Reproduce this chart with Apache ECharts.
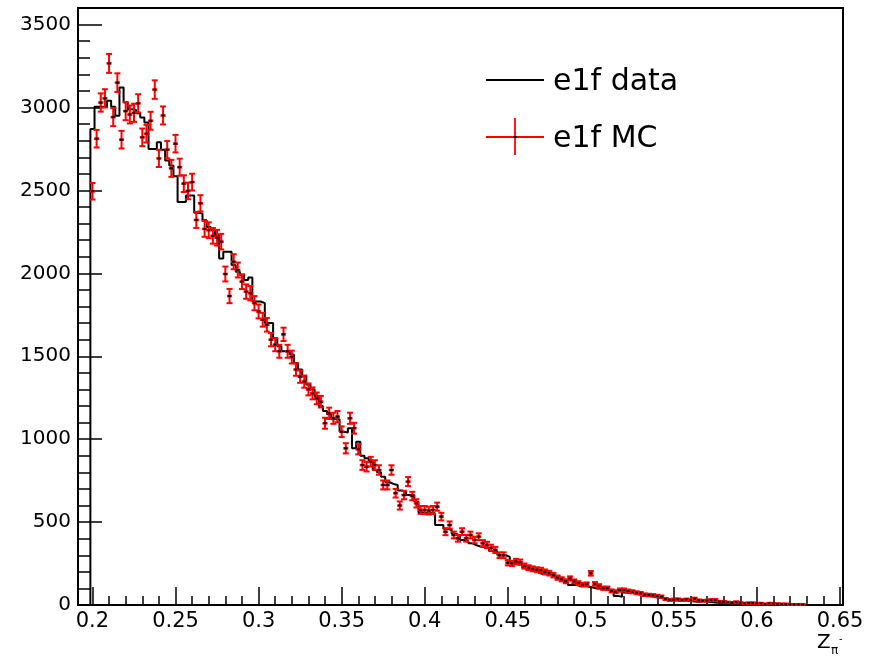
<!DOCTYPE html>
<html><head><meta charset="utf-8">
<script src="https://cdn.jsdelivr.net/npm/echarts@6/dist/echarts.min.js"></script>
<style>html,body{margin:0;padding:0;background:#fff}#c{width:875px;height:660px}</style>
</head><body><div id="c"></div>
<script>
// ---- data ----
const binLowEdge = 0.19875;   // lower edge of first filled bin
const binWidth = 0.0025;
const dataCounts = [
2870,3005,3005,3005,3040,3005,2950,3120,3030,2990,
2985,2965,2940,2910,2750,2750,2790,2745,2680,2650,
2585,2430,2430,2470,2470,2365,2360,2320,2280,2260,
2230,2090,2130,2130,2050,2010,1990,1960,1975,1830,
1830,1820,1700,1700,1610,1560,1530,1530,1510,1460,
1420,1380,1330,1300,1260,1200,1170,1150,1120,1120,
1045,1040,1066,945,985,900,885,870,814,800,
774,740,730,724,690,683,663,663,623,560,
553,553,553,482,482,460,452,430,420,392,
385,372,360,352,352,345,325,320,300,300,
290,255,251,251,225,211,205,195,185,185,
180,175,160,150,135,120,120,115,115,110,
105,100,98,95,92,90,55,50,75,72,
75,70,68,65,55,48,45,42,38,30,
28,25,25,28,22,20,20,24,18,16,
14,12,15,12,10,10,8,8,6,6,
5,4,4,3,3,2,2,2,1,1,
1,0
];
const mcCounts = [
2495,2812,3030,3055,3266,2942,3150,2806,2978,2958,
2968,3025,2820,2842,2920,3108,2693,2952,2746,2633,
2782,2640,2541,2497,2550,2322,2422,2268,2260,2226,
2215,2191,1996,1863,2070,2020,1950,1890,1880,1820,
1770,1720,1690,1600,1570,1530,1632,1530,1495,1420,
1377,1347,1300,1276,1246,1226,1096,1156,1126,1136,
1045,945,1126,1066,939,844,834,864,844,814,
724,724,814,674,600,663,744,657,613,573,
573,569,573,593,533,442,482,422,402,442,
402,422,392,412,372,362,345,332,300,300,
255,251,262,258,235,225,218,213,210,200,
192,180,165,155,143,160,142,132,122,125,
191,127,115,101,101,85,80,90,90,84,
80,74,70,62,60,58,54,50,36,30,
33,34,30,33,30,38,28,26,26,30,
30,20,20,16,14,18,14,10,12,12,
10,10,6,10,8,7,6,6,4,4,
4,3
];
const xTickLabels = [0.2,0.25,0.3,0.35,0.4,0.45,0.5,0.55,0.6,0.65];
const yTickLabels = [0,500,1000,1500,2000,2500,3000,3500];
const legendNames = ['e1f data','e1f MC'];
const xTitleMain = 'Z', xTitleSub = 'π', xTitleSup = '-';

// ---- build ----
const FONT = 'DejaVu Sans';
const xMin = 0.1913, xMax = 0.6518, yMin = 0, yMax = 3600;

const histPts = [[binLowEdge, 0]];
dataCounts.forEach((v, i) => histPts.push([binLowEdge + i * binWidth, v]));
histPts.push([binLowEdge + dataCounts.length * binWidth, dataCounts[dataCounts.length - 1]]);

const mcPts = mcCounts.map((v, i) => [binLowEdge + (i + 0.5) * binWidth, v, Math.sqrt(v)]);

const xMinor = [];
for (let k = 20; k <= 65; k++) xMinor.push(k / 100);
const yMinor = [];
for (let k = 0; k <= 35; k++) yMinor.push(k * 100);

const chart = echarts.init(document.getElementById('c'), null, {renderer: 'canvas'});
const axisLineStyle = {color: '#000', width: 2};
chart.setOption({
  animation: false,
  backgroundColor: '#fff',
  grid: {left: 78, right: 32, top: 8, bottom: 55, show: true, borderColor: '#000', borderWidth: 2, backgroundColor: 'transparent'},
  xAxis: [
    {type: 'value', min: xMin, max: xMax, position: 'bottom',
     axisLine: {show: true, onZero: false, lineStyle: axisLineStyle},
     axisTick: {show: true, inside: true, length: 18, customValues: xTickLabels, lineStyle: {color: '#000', width: 1.5}},
     axisLabel: {show: true, customValues: xTickLabels, margin: 6, color: '#000', fontFamily: FONT, fontSize: 21,
                 formatter: v => String(Math.round(v * 100) / 100)},
     splitLine: {show: false}},
    {type: 'value', min: xMin, max: xMax, position: 'bottom',
     axisLine: {show: false, onZero: false},
     axisTick: {show: true, inside: true, length: 9, customValues: xMinor, lineStyle: {color: '#000', width: 1.5}},
     axisLabel: {show: false},
     splitLine: {show: false}}
  ],
  yAxis: [
    {type: 'value', min: yMin, max: yMax, position: 'left',
     axisLine: {show: true, onZero: false, lineStyle: axisLineStyle},
     axisTick: {show: true, inside: true, length: 24, customValues: yTickLabels, lineStyle: {color: '#000', width: 1.5}},
     axisLabel: {show: true, customValues: yTickLabels, margin: 7, color: '#000', fontFamily: FONT, fontSize: 20,
                 formatter: v => String(Math.round(v))},
     splitLine: {show: false}},
    {type: 'value', min: yMin, max: yMax, position: 'left',
     axisLine: {show: false, onZero: false},
     axisTick: {show: true, inside: true, length: 12, customValues: yMinor, lineStyle: {color: '#000', width: 1.5}},
     axisLabel: {show: false},
     splitLine: {show: false}}
  ],
  series: [
    {name: legendNames[0], type: 'line', xAxisIndex: 0, yAxisIndex: 0, step: 'end',
     data: histPts, symbol: 'none', lineStyle: {color: '#000', width: 2}, z: 2, silent: true},
    {name: legendNames[1], type: 'custom', xAxisIndex: 0, yAxisIndex: 0, z: 3,
     data: mcPts, encode: {x: 0, y: 1},
     renderItem: function (params, api) {
       const x = api.value(0), v = api.value(1), e = api.value(2);
       const c = api.coord([x, v]);
       const top = api.coord([x, v + e]);
       const bot = api.coord([x, Math.max(v - e, 0)]);
       const hw = api.size([binWidth, 0])[0] / 2 + 0.5;
       const red = {stroke: '#ff0000', lineWidth: 2};
       const cap = 3;
       return {type: 'group', children: [
         {type: 'line', shape: {x1: c[0], y1: top[1], x2: c[0], y2: bot[1]}, style: red},
         {type: 'line', shape: {x1: c[0] - cap, y1: top[1], x2: c[0] + cap, y2: top[1]}, style: red},
         {type: 'line', shape: {x1: c[0] - cap, y1: bot[1], x2: c[0] + cap, y2: bot[1]}, style: red},
         {type: 'line', shape: {x1: c[0] - hw, y1: c[1], x2: c[0] + hw, y2: c[1]}, style: {stroke: '#ff0000', lineWidth: 2.5}},
         {type: 'rect', shape: {x: c[0] - 1.5, y: c[1] - 1, width: 3, height: 2}, style: {fill: '#000'}}
       ]};
     }}
  ],
  graphic: [
    {type: 'line', shape: {x1: 486, y1: 80, x2: 544, y2: 80}, style: {stroke: '#000', lineWidth: 2}},
    {type: 'text', x: 553, y: 82, style: {text: legendNames[0], font: '30px "DejaVu Sans"', fill: '#000', verticalAlign: 'middle'}},
    {type: 'line', shape: {x1: 486, y1: 137, x2: 544, y2: 137}, style: {stroke: '#ff0000', lineWidth: 1.8}},
    {type: 'line', shape: {x1: 515, y1: 118, x2: 515, y2: 155}, style: {stroke: '#ff0000', lineWidth: 1.8}},
    {type: 'rect', shape: {x: 513.5, y: 136, width: 3, height: 2}, style: {fill: '#000'}},
    {type: 'text', x: 553, y: 139, style: {text: legendNames[1], font: '30px "DejaVu Sans"', fill: '#000', verticalAlign: 'middle'}},
    {type: 'text', x: 817, y: 643, style: {text: xTitleMain, font: '20px "DejaVu Sans"', fill: '#000', verticalAlign: 'middle'}},
    {type: 'text', x: 831, y: 651, style: {text: xTitleSub, font: '12px "DejaVu Sans"', fill: '#000', verticalAlign: 'middle'}},
    {type: 'text', x: 839, y: 639, style: {text: xTitleSup, font: '10px "DejaVu Sans"', fill: '#000', verticalAlign: 'middle'}}
  ]
});
</script>
</body></html>
